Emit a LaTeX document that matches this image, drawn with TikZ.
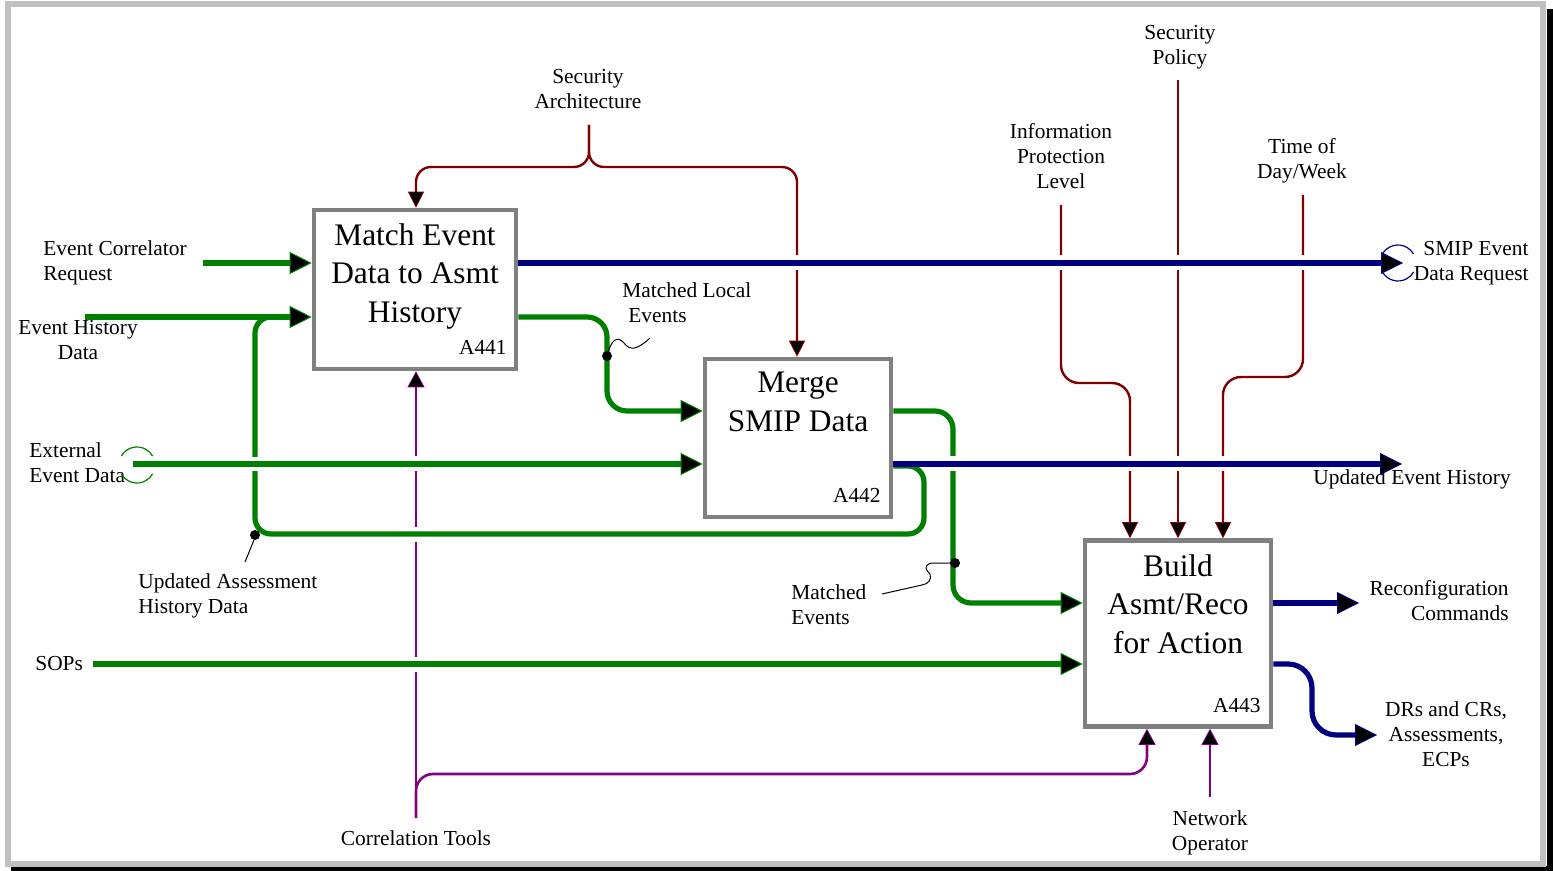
\documentclass[tikz,border=0pt]{standalone}
\usepackage{fontspec}
\setmainfont{Liberation Serif}
\usetikzlibrary{arrows.meta,calc}
\definecolor{flowgreen}{RGB}{0,128,0}
\definecolor{flownavy}{RGB}{0,0,128}
\definecolor{ctrlred}{RGB}{128,0,0}
\definecolor{mechpurple}{RGB}{128,0,128}
\definecolor{boxgray}{RGB}{128,128,128}
\definecolor{framegray}{RGB}{192,192,192}

\begin{document}
\begin{tikzpicture}[x=0.5pt,y=-0.5pt,
  lbl/.style={font=\fontsize{10.7}{12.5}\selectfont, inner sep=0pt},
  ttl/.style={font=\fontsize{15.7}{19.25}\selectfont, inner sep=0pt, align=center, anchor=north},
  func/.style={draw=boxgray, line width=2.3pt, fill=white, inner sep=0pt},
  gline/.style={draw=flowgreen, line width=2.6pt},
  garrow/.style={gline, -{Triangle[length=11pt,width=11pt,line width=0.5pt,fill=black]}},
  barrow/.style={draw=flownavy, line width=2.6pt, -{Triangle[length=11pt,width=11pt,line width=0.5pt,fill=black]}},
  rarrow/.style={draw=ctrlred, line width=1.2pt, -{Triangle[length=8pt,width=8pt,line width=0.4pt,fill=black]}},
  parrow/.style={draw=mechpurple, line width=1.3pt, -{Triangle[length=8pt,width=8.5pt,line width=0.4pt,fill=black]}},
  leader/.style={draw=black, line width=0.5pt},
  tunnel/.style={line width=0.6pt},
  gapmask/.style={fill=white, draw=none}
]
\useasboundingbox (0,0) rectangle (1553,871);

% page frame with drop shadow
\draw[black, line width=3.5pt] (1550,9) -- (1550,869.5) -- (11,869.5);
\draw[framegray, line width=3pt] (7.5,4.5) rectangle (1543,863.5);

% activity boxes
\node[func, minimum width=101pt, minimum height=79.5pt] (A441) at (415,289.5) {};
\node[func, minimum width=93pt, minimum height=79pt] (A442) at (798,438) {};
\node[func, minimum width=93pt, minimum height=93pt] (A443) at (1178,633.5) {};

\node[ttl] (t441) at (415,223) {Match Event\\Data to Asmt\\History};
\node[ttl] (t442) at (798,372) {Merge\\SMIP Data};
\node[ttl] (t443) at (1178,554) {Build\\Asmt/Reco\\for Action};
\node[lbl, anchor=south east] (n441) at (507,355) {A441};
\node[lbl, anchor=south east] (n442) at (881,503) {A442};
\node[lbl, anchor=south east] (n443) at (1261,713) {A443};

% labels
\node[lbl, anchor=north west, align=left] (lECR) at (43,240) {Event Correlator\\Request};
\node[lbl, anchor=north, align=center] (lEHD) at (78,320) {Event History\\Data};
\node[lbl, anchor=north west, align=left] (lEED) at (29,442) {External\\Event Data};
\node[lbl, anchor=north, align=center] (lSA) at (588,69) {Security\\Architecture};
\node[lbl, anchor=north, align=center] (lIPL) at (1061,123) {Information\\Protection\\Level};
\node[lbl, anchor=north, align=center] (lSP) at (1180,25) {Security\\Policy};
\node[lbl, anchor=north, align=center] (lTD) at (1302,138) {Time of\\Day/Week};
\node[lbl, anchor=north east, align=right] (lSMIP) at (1529,241) {SMIP Event\\Data Request};
\node[lbl, anchor=north west] (lUEH) at (1313,469) {Updated Event History};
\node[lbl, anchor=north west, align=left] (lMLE) at (622,282) {Matched Local\\\hspace{3pt}Events};
\node[lbl, anchor=north west, align=left] (lME) at (791,584) {Matched\\Events};
\node[lbl, anchor=north west, align=left] (lUAH) at (138,573) {Updated Assessment\\History Data};
\node[lbl, anchor=north west] (lSOP) at (35,656) {SOPs};
\node[lbl, anchor=north east, align=right] (lRC) at (1509,580) {Reconfiguration\\Commands};
\node[lbl, anchor=north, align=center] (lDR) at (1446,701) {DRs and CRs,\\Assessments,\\ECPs};
\node[lbl, anchor=north] (lCT) at (416,830) {Correlation Tools};
\node[lbl, anchor=north, align=center] (lNO) at (1210,810) {Network\\Operator};

% free ends of the boundary arrows
\coordinate (ecr) at (203,263);
\coordinate (ehd) at (85,317);
\coordinate (eed) at (133,464);
\coordinate (sop) at (93,664);
\coordinate (sa) at (589,125);
\coordinate (ipl) at (1061,205);
\coordinate (sp) at (1178,80);
\coordinate (td) at (1303,195);
\coordinate (ct) at (416,818);
\coordinate (no) at (1210,797);
\coordinate (smip) at (1403,263);
\coordinate (ueh) at (1402,464);
\coordinate (rc) at (1359,603);
\coordinate (dr) at (1377,735);

% controls
\draw[rarrow, rounded corners=7.5pt] (sa) -- (589,167) -- (416,167) -- (416,0 |- A441.north);
\draw[rarrow, rounded corners=7.5pt] (sa) -- (589,167) -- (797,167) -- (797,0 |- A442.north);
\draw[rarrow, rounded corners=9pt] (ipl) -- (1061,383) -- (1130,383) -- (1130,0 |- A443.north);
\draw[rarrow] (sp) -- (sp |- A443.north);
\draw[rarrow, rounded corners=9pt] (td) -- (1303,377) -- (1223,377) -- (1223,0 |- A443.north);

% mechanisms
\draw[parrow] (ct) -- (ct |- A441.south);
\draw[parrow, rounded corners=8.5pt] (ct) -- (416,774) -- (1147,774) -- (1147,0 |- A443.south);
\draw[parrow] (no) -- (no |- A443.south);

% matched events: A442 -> A443
\draw[garrow, rounded corners=9pt] ($(A442.east)+(0,-27)$) -- (953,411) -- (953,603) -- (A443.west |- 0,603);

% breaks in the lines that pass under
\foreach \px/\py in {416/464, 416/534, 416/664, 797/263, 1061/263, 1178/263, 1303/263, 953/464, 1130/464, 1178/464, 1223/464}
  \fill[gapmask] (\px-5,\py-7.5) rectangle (\px+5,\py+7.5);

% assessment history feedback: A442 -> A441
\draw[gline, rounded corners=8pt] ($(A442.east)+(0,28)$) -- (924,466) -- (924,534) -- (255,534) -- (255,317) -- (300,317);
\fill[gapmask] (250,457) rectangle (260,471.5);

% inputs
\draw[garrow] (ecr) -- (ecr -| A441.west);
\draw[garrow] (ehd) -- (ehd -| A441.west);
\draw[garrow, rounded corners=10pt] (A441.east |- 0,317) -- (607,317) -- (607,411) -- (A442.west |- 0,411);
\draw[garrow] (eed) -- (eed -| A442.west);
\draw[garrow] (sop) -- (sop -| A443.west);

% outputs
\draw[barrow] (A441.east |- smip) -- (smip);
\draw[barrow] (A442.east |- ueh) -- (ueh);
\draw[barrow] (A443.east |- rc) -- (rc);
\draw[barrow, rounded corners=12pt] (A443.east |- 0,664) -- (1312,664) -- (1312,735) -- (dr);

% tunnel marks
\draw[tunnel, flowgreen] (121.4,456) arc[start angle=150, end angle=30, radius=9pt];
\draw[tunnel, flowgreen] (121.4,474) arc[start angle=210, end angle=330, radius=9pt];
\draw[tunnel, flownavy] (1382.4,254) arc[start angle=150, end angle=30, radius=9pt];
\draw[tunnel, flownavy] (1382.4,272) arc[start angle=210, end angle=330, radius=9pt];

% label leaders
\fill (607,356) circle[radius=2.5pt];
\draw[leader] (607,356) .. controls (611,340) and (617,335) .. (624,343) .. controls (630,351) and (637,350) .. (650,338);
\fill (955,563) circle[radius=2.5pt];
\draw[leader] (955,563) -- (931,563) .. controls (923,566) and (926,570) .. (930,574) .. controls (932,580) and (928,584) .. (922,585) -- (882,594);
\fill (255,535) circle[radius=2.5pt];
\draw[leader] (254,540) -- (245,562);
\end{tikzpicture}
\end{document}
